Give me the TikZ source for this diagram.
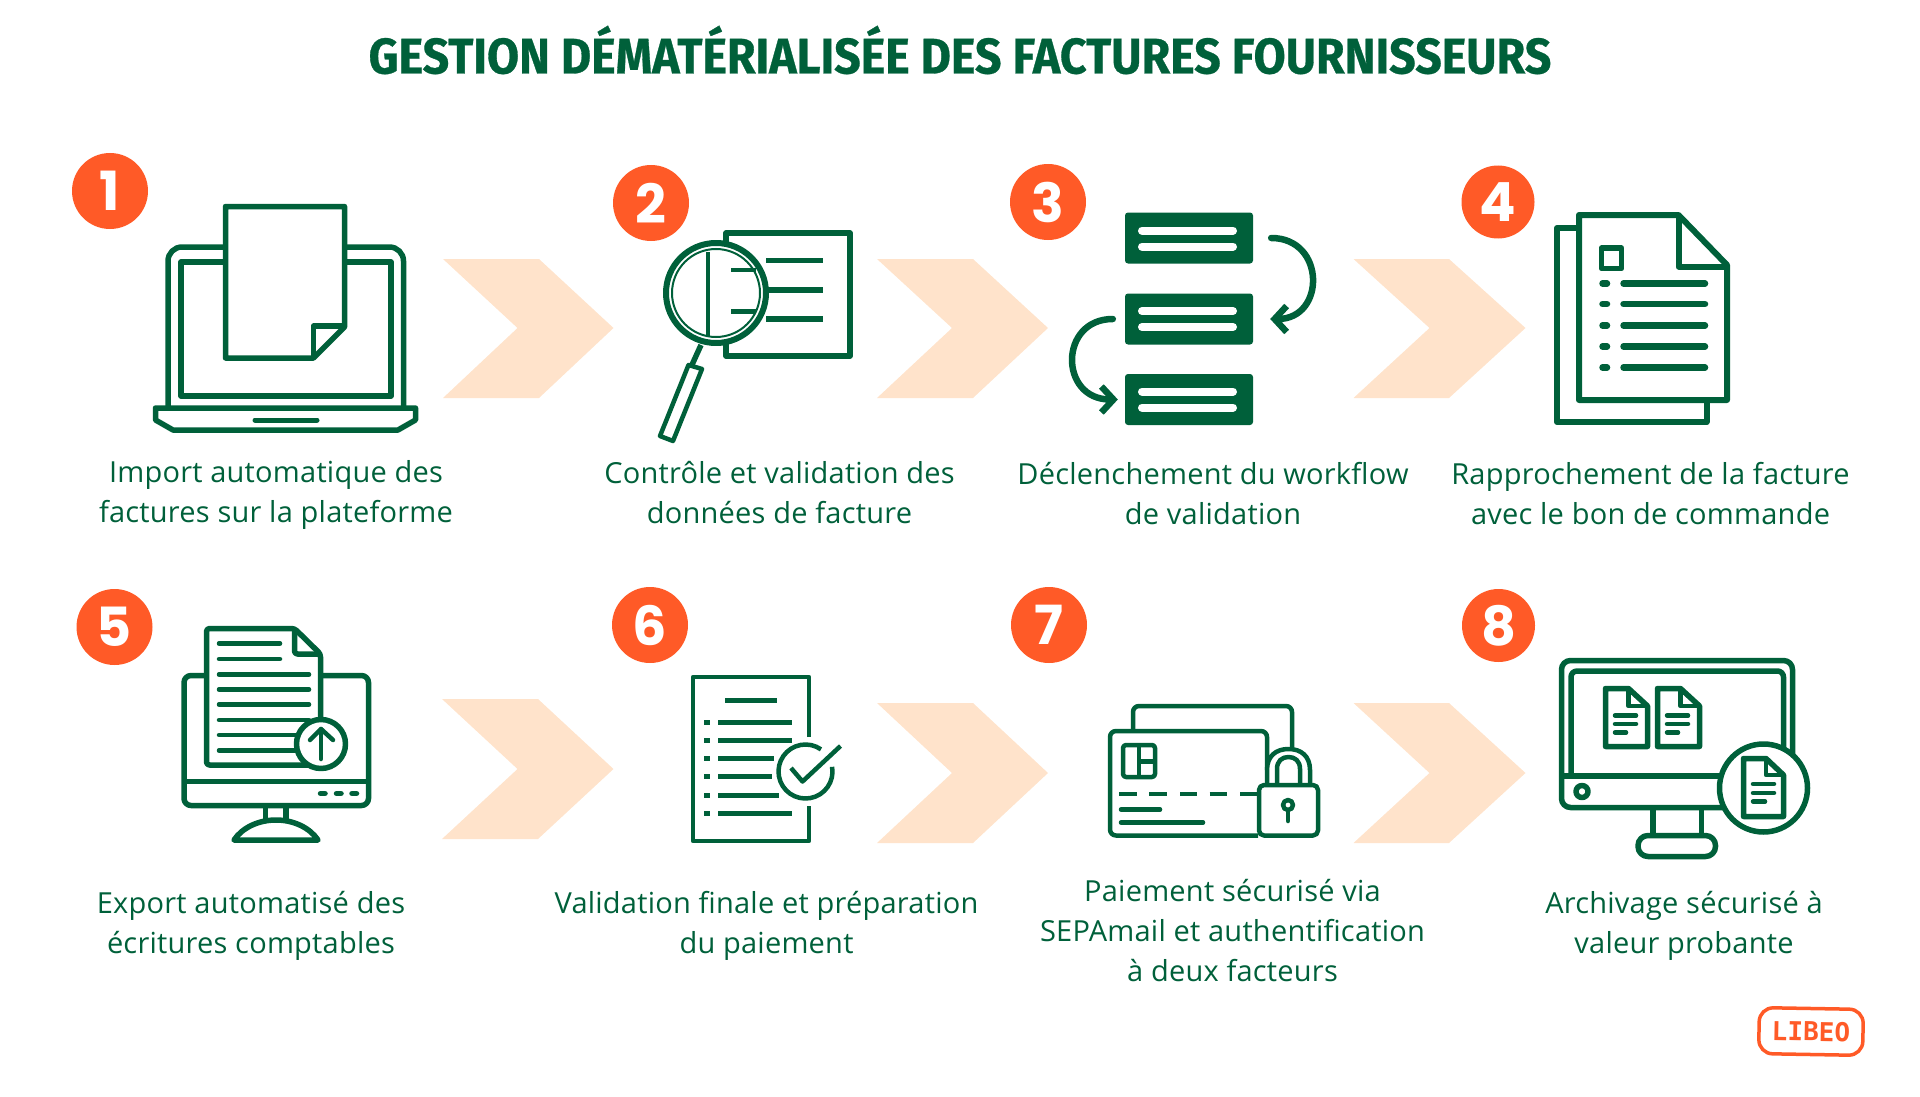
\documentclass[tikz,border=0pt]{standalone}
\usepackage{fontspec}
\setmainfont[LetterSpace=0.8]{Open Sans}
\newfontfamily\titlefont[FakeStretch=0.93,FakeBold=0.6]{Fira Sans}
\newfontfamily\numfont{Poppins}
\newfontfamily\logofont{DejaVu Sans Mono}
\usetikzlibrary{arrows.meta}
\definecolor{libeogreen}{HTML}{00603A}
\definecolor{libeoorange}{HTML}{FF5A27}
\definecolor{libeopeach}{HTML}{FFE3CB}

\begin{document}
\begin{tikzpicture}[
		x=1pt,y=-1pt,
		every node/.style={inner sep=0pt},
		numdot/.style={circle,fill=libeoorange,text=white,minimum size=76pt,font=\numfont\bfseries\fontsize{54}{54}\selectfont},
		steptext/.style={align=center,text=libeogreen,font=\fontsize{29}{40}\selectfont},
		wfbox/.style={fill=libeogreen,rounded corners=3pt,minimum width=128pt,minimum height=51pt},
		wfbar/.style={draw=white,line width=8pt,line cap=round},
		wfarrow/.style={draw=libeogreen,line width=6.5pt,line cap=round,-{Straight Barb[length=12pt,width=26pt]}},
		icon/.style={draw=libeogreen,line width=5.5pt,line join=round},
		iconfill/.style={icon,fill=white},
		thinicon/.style={draw=libeogreen,line width=4.5pt,line join=round},
		rowline/.style={draw=libeogreen,line width=6.5pt,line cap=round},
		flatline/.style={draw=libeogreen,line width=5.5pt},
		chevron/.style={fill=libeopeach}
		]
		\useasboundingbox (0,0) rectangle (1920,1097);

		\node[text=libeogreen,font=\titlefont\bfseries\fontsize{50}{50}\selectfont] (title) at (960,50) {GESTION DÉMATÉRIALISÉE DES FACTURES FOURNISSEURS};

		\path[chevron] (443,259) -- (539,259) -- (613.5,328) -- (539,398) -- (443,398) -- (517.5,328) -- cycle;
		\path[chevron] (877,259) -- (973,259) -- (1048,328) -- (973,398) -- (877,398) -- (952,328) -- cycle;
		\path[chevron] (1353.5,259) -- (1449,259) -- (1525.5,328) -- (1449,398) -- (1353.5,398) -- (1429.5,328) -- cycle;
		\path[chevron] (442,699) -- (538,699) -- (613.5,769) -- (538,839) -- (442,839) -- (517.5,769) -- cycle;
		\path[chevron] (877,703) -- (973,703) -- (1048,773) -- (973,843) -- (877,843) -- (952,773) -- cycle;
		\path[chevron] (1353.5,703) -- (1449,703) -- (1525.5,773) -- (1449,843) -- (1353.5,843) -- (1429.5,773) -- cycle;

		\node[numdot] (num1) at (110,191) {1};
		\node[numdot] (num2) at (651,203) {2};
		\node[numdot] (num3) at (1048,202) {3};
		\node[numdot,minimum size=73pt] (num4) at (1498,202) {4};
		\node[numdot] (num5) at (114.5,627) {5};
		\node[numdot] (num6) at (650,625) {6};
		\node[numdot] (num7) at (1049,625) {7};
		\node[numdot,minimum size=73pt] (num8) at (1498.5,625.5) {8};

		\node[steptext] (text1) at (276,494.5) {Import automatique des\\factures sur la plateforme};
		\node[steptext] (text2) at (779.5,492.5) {Contrôle et validation des\\données de facture};
		\node[steptext] (text3) at (1213,493.5) {Déclenchement du workflow\\de validation};
		\node[steptext] (text4) at (1650.5,493.5) {Rapprochement de la facture\\avec le bon de commande};
		\node[steptext] (text5) at (251,926) {Export automatisé des\\écritures comptables};
		\node[steptext] (text6) at (766.5,926) {Validation finale et préparation\\du paiement};
		\node[steptext] (text7) at (1232.5,931) {Paiement sécurisé via\\SEPAmail et authentification\\à deux facteurs};
		\node[steptext] (text8) at (1684,926) {Archivage sécurisé à\\valeur probante};

		% laptop
		\draw[icon,rounded corners=14pt] (168,408) -- (168,247) -- (403.5,247) -- (403.5,408);
		\draw[icon] (181,262) rectangle (391,396);
		\draw[icon] (155.5,408) -- (155.5,420) -- (173,430) -- (398,430) -- (415.5,420) -- (415.5,408) -- cycle;
		\draw[rowline,line width=5pt] (255,420) -- (317,420);
		\draw[iconfill] (225.5,206.5) -- (344.5,206.5) -- (344.5,327) -- (313.5,358) -- (225.5,358) -- cycle;
		\draw[icon] (313.5,358) -- (313.5,326) -- (344.5,326);

		% magnifier
		\draw[iconfill] (726,233) rectangle (850,356);
		\draw[flatline] (766,260.5) -- (823,260.5);
		\draw[flatline] (766,290) -- (823,290);
		\draw[flatline] (766,319) -- (823,319);
		\draw[icon] (701,345) -- (691,367);
		\draw[iconfill,line width=4.5pt] (688.5,365) -- (702,369) -- (673,441) -- (660,436) -- cycle;
		\draw[iconfill,line width=6pt] (716,293) circle (50);
		\draw[draw=libeogreen,line width=2pt] (716,293) circle (44);
		\draw[thinicon] (708,252) -- (708,337);
		\draw[flatline,line width=4.5pt] (731,270) -- (756,270);
		\draw[flatline,line width=4.5pt] (731,311.5) -- (756,311.5);

		% workflow
		\node[wfbox] (wf1) at (1189,238) {};
		\node[wfbox] (wf2) at (1189,319) {};
		\node[wfbox] (wf3) at (1189,399.5) {};
		\draw[wfbar] (1142,230.5) -- (1233,230.5);
		\draw[wfbar] (1142,246.5) -- (1233,246.5);
		\draw[wfbar] (1142,311) -- (1233,311);
		\draw[wfbar] (1142,327) -- (1233,327);
		\draw[wfbar] (1142,391.5) -- (1233,391.5);
		\draw[wfbar] (1142,407.5) -- (1233,407.5);
		\draw[wfarrow,shorten <=18pt,shorten >=17pt] (wf1.east) to[out=0,in=0,looseness=2.3] (wf2.east);
		\draw[wfarrow,shorten <=12pt,shorten >=7pt] (wf2.west) to[out=180,in=180,looseness=2.1] (wf3.west);

		% documents
		\draw[icon,line width=6pt] (1579,228) -- (1557,228) -- (1557,422) -- (1706.5,422) -- (1706.5,400);
		\draw[icon,line width=6pt] (1579,215) -- (1678.5,215) -- (1727,265) -- (1727,400) -- (1579,400) -- cycle;
		\draw[icon,line width=6pt] (1678.5,215) -- (1678.5,266.5) -- (1727,266.5);
		\draw[icon] (1601.5,248) rectangle (1621.5,268.5);
		\draw[rowline] (1602.5,283.5) -- (1607,283.5);
		\draw[rowline] (1623.5,283.5) -- (1705,283.5);
		\draw[rowline] (1602.5,304) -- (1607,304);
		\draw[rowline] (1623.5,304) -- (1705,304);
		\draw[rowline] (1602.5,325.5) -- (1607,325.5);
		\draw[rowline] (1623.5,325.5) -- (1705,325.5);
		\draw[rowline] (1602.5,346.5) -- (1607,346.5);
		\draw[rowline] (1623.5,346.5) -- (1705,346.5);
		\draw[rowline] (1602.5,367.5) -- (1607,367.5);
		\draw[rowline] (1623.5,367.5) -- (1705,367.5);

		% export screen
		\draw[icon,rounded corners=7pt] (184,675.5) rectangle (368.5,805.5);
		\draw[icon] (184,781.5) -- (368.5,781.5);
		\draw[iconfill,rounded corners=3pt] (206.5,628.5) -- (294.5,628.5) -- (320.5,654) -- (320.5,765) -- (206.5,765) -- cycle;
		\draw[icon,rounded corners=3pt] (294.5,628.5) -- (294.5,654) -- (320.5,654);
		\draw[rowline,line width=4.5pt] (219,643.5) -- (280,643.5);
		\draw[rowline,line width=4.5pt] (219,659) -- (280,659);
		\draw[rowline,line width=4.5pt] (219,674.5) -- (309,674.5);
		\draw[rowline,line width=4.5pt] (219,689.5) -- (309,689.5);
		\draw[rowline,line width=4.5pt] (219,704.5) -- (309,704.5);
		\draw[rowline,line width=4.5pt] (219,720) -- (309,720);
		\draw[rowline,line width=4.5pt] (219,735) -- (309,735);
		\draw[rowline,line width=4.5pt] (219,750.5) -- (309,750.5);
		\draw[iconfill] (321,744) circle (24.5);
		\draw[thinicon,line cap=round] (321,759) -- (321,729);
		\draw[thinicon,line cap=round] (310,740) -- (321,729) -- (333,740);
		\draw[rowline,line width=5.5pt] (320.5,793.5) -- (325,793.5);
		\draw[rowline,line width=5.5pt] (336.5,793.5) -- (341,793.5);
		\draw[rowline,line width=5.5pt] (352,793.5) -- (356.5,793.5);
		\draw[icon] (265.5,807) -- (265.5,821);
		\draw[icon] (286,807) -- (286,821);
		\draw[icon] (234,840) .. controls (242,828) and (258,820) .. (276,820) .. controls (294,820) and (310,828) .. (318,840) -- cycle;

		% checklist
		\draw[thinicon] (809,737) -- (809,677) -- (693,677) -- (693,841) -- (809,841) -- (809,806);
		\draw[flatline,line width=5pt] (725,700.5) -- (777,700.5);
		\draw[flatline,line width=5pt] (704,722.5) -- (709.5,722.5);
		\draw[flatline,line width=5pt] (718,722.5) -- (792,722.5);
		\draw[flatline,line width=5pt] (704,740.5) -- (709.5,740.5);
		\draw[flatline,line width=5pt] (718,740.5) -- (792,740.5);
		\draw[flatline,line width=5pt] (704,758.5) -- (709.5,758.5);
		\draw[flatline,line width=5pt] (718,758.5) -- (774,758.5);
		\draw[flatline,line width=5pt] (704,776.5) -- (709.5,776.5);
		\draw[flatline,line width=5pt] (718,776.5) -- (772,776.5);
		\draw[flatline,line width=5pt] (704,795) -- (709.5,795);
		\draw[flatline,line width=5pt] (718,795) -- (779,795);
		\draw[flatline,line width=5pt] (704,813) -- (709.5,813);
		\draw[flatline,line width=5pt] (718,813) -- (792,813);
		\draw[thinicon] ([shift={(-10:27)}]805.5,771.5) arc[start angle=-10,end angle=305,radius=27];
		\draw[thinicon] (791,768) -- (802.5,781.5) -- (840.5,746);

		% card and padlock
		\draw[thinicon,rounded corners=6pt] (1133,731) -- (1133,706) -- (1292,706) -- (1292,748);
		\draw[thinicon,rounded corners=6pt] (1258,835.5) -- (1110,835.5) -- (1110,731) -- (1267,731) -- (1267,770);
		\draw[thinicon,rounded corners=3pt] (1123,745) rectangle (1155,777);
		\draw[thinicon] (1139,745) -- (1139,777);
		\draw[thinicon] (1139,761.5) -- (1155,761.5);
		\draw[flatline,line width=4.5pt] (1119,794) -- (1137,794);
		\draw[flatline,line width=4.5pt] (1149,794) -- (1166.5,794);
		\draw[flatline,line width=4.5pt] (1180,794) -- (1197,794);
		\draw[flatline,line width=4.5pt] (1209.5,794) -- (1227,794);
		\draw[flatline,line width=4.5pt] (1240,794) -- (1257,794);
		\draw[rowline,line width=4.5pt] (1121,809.5) -- (1160,809.5);
		\draw[rowline,line width=4.5pt] (1121,822.5) -- (1203,822.5);
		\draw[thinicon,fill=white] (1267,784) -- (1267,770) .. controls (1267,756) and (1276,749) .. (1288.5,749) .. controls (1301,749) and (1310,756) .. (1310,770) -- (1310,784);
		\draw[thinicon] (1277,784) -- (1277,769) .. controls (1277,761) and (1282,757) .. (1288.5,757) .. controls (1295,757) and (1300,761) .. (1300,769) -- (1300,784);
		\draw[iconfill,line width=4.5pt,rounded corners=5pt] (1259,785) rectangle (1318,835.5);
		\draw[thinicon] (1288,805) circle (5);
		\draw[thinicon,line cap=round] (1288,810.5) -- (1288,821);

		% archive screen
		\draw[icon,rounded corners=9pt] (1561.5,660.5) rectangle (1792.5,807.5);
		\draw[icon,rounded corners=6pt] (1571,776) -- (1571,671) -- (1783.5,671) -- (1783.5,776);
		\draw[icon] (1561.5,776) -- (1730,776);
		\draw[icon] (1582,791.5) circle (6);
		\draw[icon] (1653,808) -- (1653,835);
		\draw[icon] (1701.5,808) -- (1701.5,835);
		\draw[icon,rounded corners=10pt] (1638,835.5) rectangle (1715.5,856.5);
		\draw[icon] (1605.5,688.5) -- (1628.5,688.5) -- (1647.5,706) -- (1647.5,746.5) -- (1605.5,746.5) -- cycle;
		\draw[thinicon] (1628.5,688.5) -- (1628.5,706) -- (1647.5,706);
		\draw[rowline,line width=4.5pt] (1615,715.5) -- (1636,715.5);
		\draw[rowline,line width=4.5pt] (1615,724) -- (1636,724);
		\draw[rowline,line width=4.5pt] (1615,732.5) -- (1626,732.5);
		\draw[icon] (1657.5,688.5) -- (1680.5,688.5) -- (1699.5,706) -- (1699.5,746.5) -- (1657.5,746.5) -- cycle;
		\draw[thinicon] (1680.5,688.5) -- (1680.5,706) -- (1699.5,706);
		\draw[rowline,line width=4.5pt] (1667,715.5) -- (1688,715.5);
		\draw[rowline,line width=4.5pt] (1667,724) -- (1688,724);
		\draw[rowline,line width=4.5pt] (1667,732.5) -- (1678,732.5);
		\draw[iconfill] (1763.5,788) circle (44);
		\draw[icon] (1743.5,758.5) -- (1766,758.5) -- (1783.5,775) -- (1783.5,816.5) -- (1743.5,816.5) -- cycle;
		\draw[thinicon] (1766,758.5) -- (1766,775) -- (1783.5,775);
		\draw[rowline,line width=4.5pt] (1753,784) -- (1774,784);
		\draw[rowline,line width=4.5pt] (1753,793) -- (1774,793);
		\draw[rowline,line width=4.5pt] (1753,801.5) -- (1765,801.5);

		\node[draw=libeoorange,line width=3.5pt,rounded corners=14pt,rotate=-1,minimum width=104pt,minimum height=46pt,text=libeoorange,font=\logofont\bfseries\fontsize{26}{26}\selectfont] (logo) at (1811,1031.5) {LIBEO};
		\end{tikzpicture}
\end{document}
